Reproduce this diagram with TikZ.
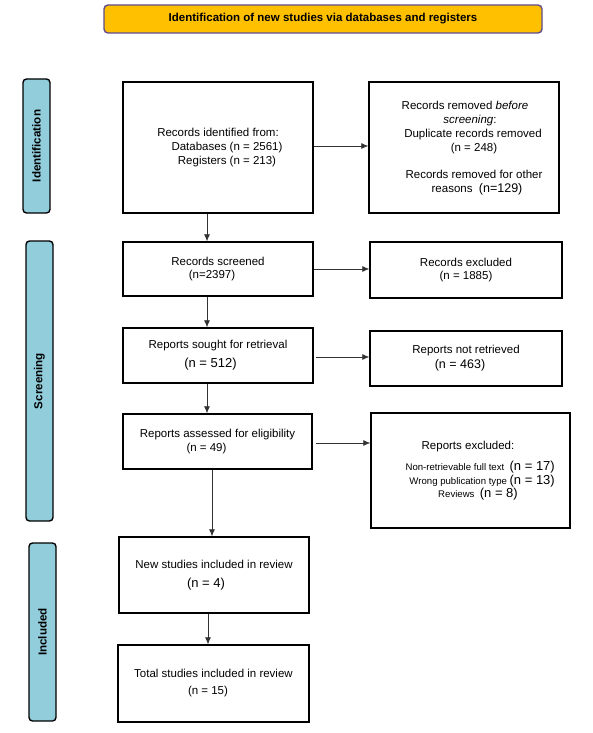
\documentclass[tikz,border=0pt]{standalone}
\usepackage{fontspec}
\setmainfont{Liberation Sans}
\usetikzlibrary{arrows.meta,calc}
\definecolor{titlefill}{HTML}{FFC000}
\definecolor{titledraw}{HTML}{5F4B8B}
\definecolor{sidefill}{HTML}{92CDDC}
\begin{document}
\begin{tikzpicture}[x=1pt,y=-1pt,
  box/.style={draw=black,line width=1.4pt,fill=white,minimum width=#1,align=center,inner sep=2pt},
  sidelabel/.style={draw=black,line width=1.4pt,fill=sidefill,rounded corners=3.5pt,minimum width=27pt,inner sep=0pt},
  sidetext/.style={rotate=90,font=\fontsize{11.6}{12}\selectfont\bfseries},
  conn/.style={draw=black!80,line width=0.7pt,-{Latex[length=7pt,width=6pt]}},
  txt/.style={font=\fontsize{11.5}{14}\selectfont},
  listtxt/.style={font=\fontsize{9.6}{13}\selectfont,inner sep=0pt}
]
\useasboundingbox (0,0) rectangle (593,733);
\fill[white] (0,0) rectangle (593,733);

% title
\node[draw=titledraw,line width=1.4pt,fill=titlefill,rounded corners=4pt,minimum width=438pt,minimum height=28pt,font=\fontsize{11.5}{12}\selectfont\bfseries,inner sep=0pt] (title) at (323,19) {Identification of new studies via databases and registers};

% side labels
\node[sidelabel,minimum height=134pt] (lid) at (36.5,146) {};
\node[sidetext] (lidt) at (lid.center) {Identification};
\node[sidelabel,minimum height=280pt] (lsc) at (39.5,381) {};
\node[sidetext] (lsct) at (lsc.center) {Screening};
\node[sidelabel,minimum height=178pt] (lin) at (42.5,632) {};
\node[sidetext] (lint) at (lin.center) {Included};

% boxes
\node[box=190pt,minimum height=131pt,txt] (ident) at (218,147.5) {Records identified from:\\\hspace*{18pt}Databases (n = 2561)\\\hspace*{18pt}Registers (n = 213)};
\node[box=190pt,minimum height=131pt,txt] (removed) at (464,147.5) {};
\node[txt,align=center] (removedt) at (470,148) {Records removed \textit{before}\hspace*{10pt}\\\textit{screening}:\hspace*{15pt}\\\hspace*{6pt}Duplicate records removed\\\hspace*{8pt}(n = 248)\\[13pt]\hspace*{8pt}Records removed for other\\\hspace*{14pt}reasons\ \ {\fontsize{12.5}{14}\selectfont(n=129)}};

\node[box=190pt,minimum height=54pt,txt,font=\fontsize{11.5}{13}\selectfont] (screened) at (218,269) {Records screened\\(n=2397)\hspace*{12pt}};
\node[box=192pt,minimum height=56pt,txt,font=\fontsize{11.5}{13}\selectfont] (excl) at (466,270) {Records excluded\\(n = 1885)};

\node[box=190pt,minimum height=55pt,txt] (sought) at (218,355.5) {Reports sought for retrieval\\[5pt]{\fontsize{13}{14}\selectfont(n = 512)}\hspace*{15pt}};
\node[box=192pt,minimum height=55pt,txt] (notret) at (466,358.5) {Reports not retrieved\\[1pt]{\fontsize{12.5}{14}\selectfont(n = 463)}\hspace*{12pt}};

\node[box=189pt,minimum height=55pt,txt] (assessed) at (217.5,441.5) {Reports assessed for eligibility\\[0pt](n = 49)\hspace*{22pt}};
\node[box=199pt,minimum height=115pt] (repexcl) at (470.5,470.5) {};
\node[txt] (repexclh) at (468,447) {Reports excluded:};
\node[listtxt,anchor=base east] (rl1) at (555,470) {Non-retrievable full text\ \ {\fontsize{13}{13}\selectfont(n = 17)}};
\node[listtxt,anchor=base east] (rl2) at (555,484) {Wrong publication type {\fontsize{13}{13}\selectfont(n = 13)}};
\node[listtxt,anchor=base] (rl3) at (478,497) {Reviews\ \ {\fontsize{13}{13}\selectfont(n = 8)}};

\node[box=190pt,minimum height=76pt,txt] (newst) at (214,575) {New studies included in review\\[5pt]{\fontsize{13}{14}\selectfont(n = 4)}\hspace*{16pt}};
\node[box=191pt,minimum height=77pt,txt] (total) at (213.5,683.5) {Total studies included in review\\[3pt](n = 15)\hspace*{11pt}};

% connectors
\coordinate (xa) at (207,0);
\coordinate (xb) at (212,0);
\coordinate (xc) at (208,0);
\draw[conn] (ident.south -| xa) -- (screened.north -| xa);
\draw[conn] (screened.south -| xa) -- (sought.north -| xa);
\draw[conn] (sought.south -| xa) -- (assessed.north -| xa);
\draw[conn] (assessed.south -| xb) -- (newst.north -| xb);
\draw[conn] (newst.south -| xc) -- (total.north -| xc);

\coordinate (y1) at (0,146);
\coordinate (y2) at (0,269);
\coordinate (y3) at (0,357);
\coordinate (y4) at (0,443);
\draw[conn] (ident.east |- y1) -- (removed.west |- y1);
\draw[conn] (screened.east |- y2) -- (excl.west |- y2);
\draw[conn] ($(sought.east |- y3)+(2,0)$) -- (notret.west |- y3);
\draw[conn] ($(assessed.east |- y4)+(3,0)$) -- (repexcl.west |- y4);
\end{tikzpicture}
\end{document}
